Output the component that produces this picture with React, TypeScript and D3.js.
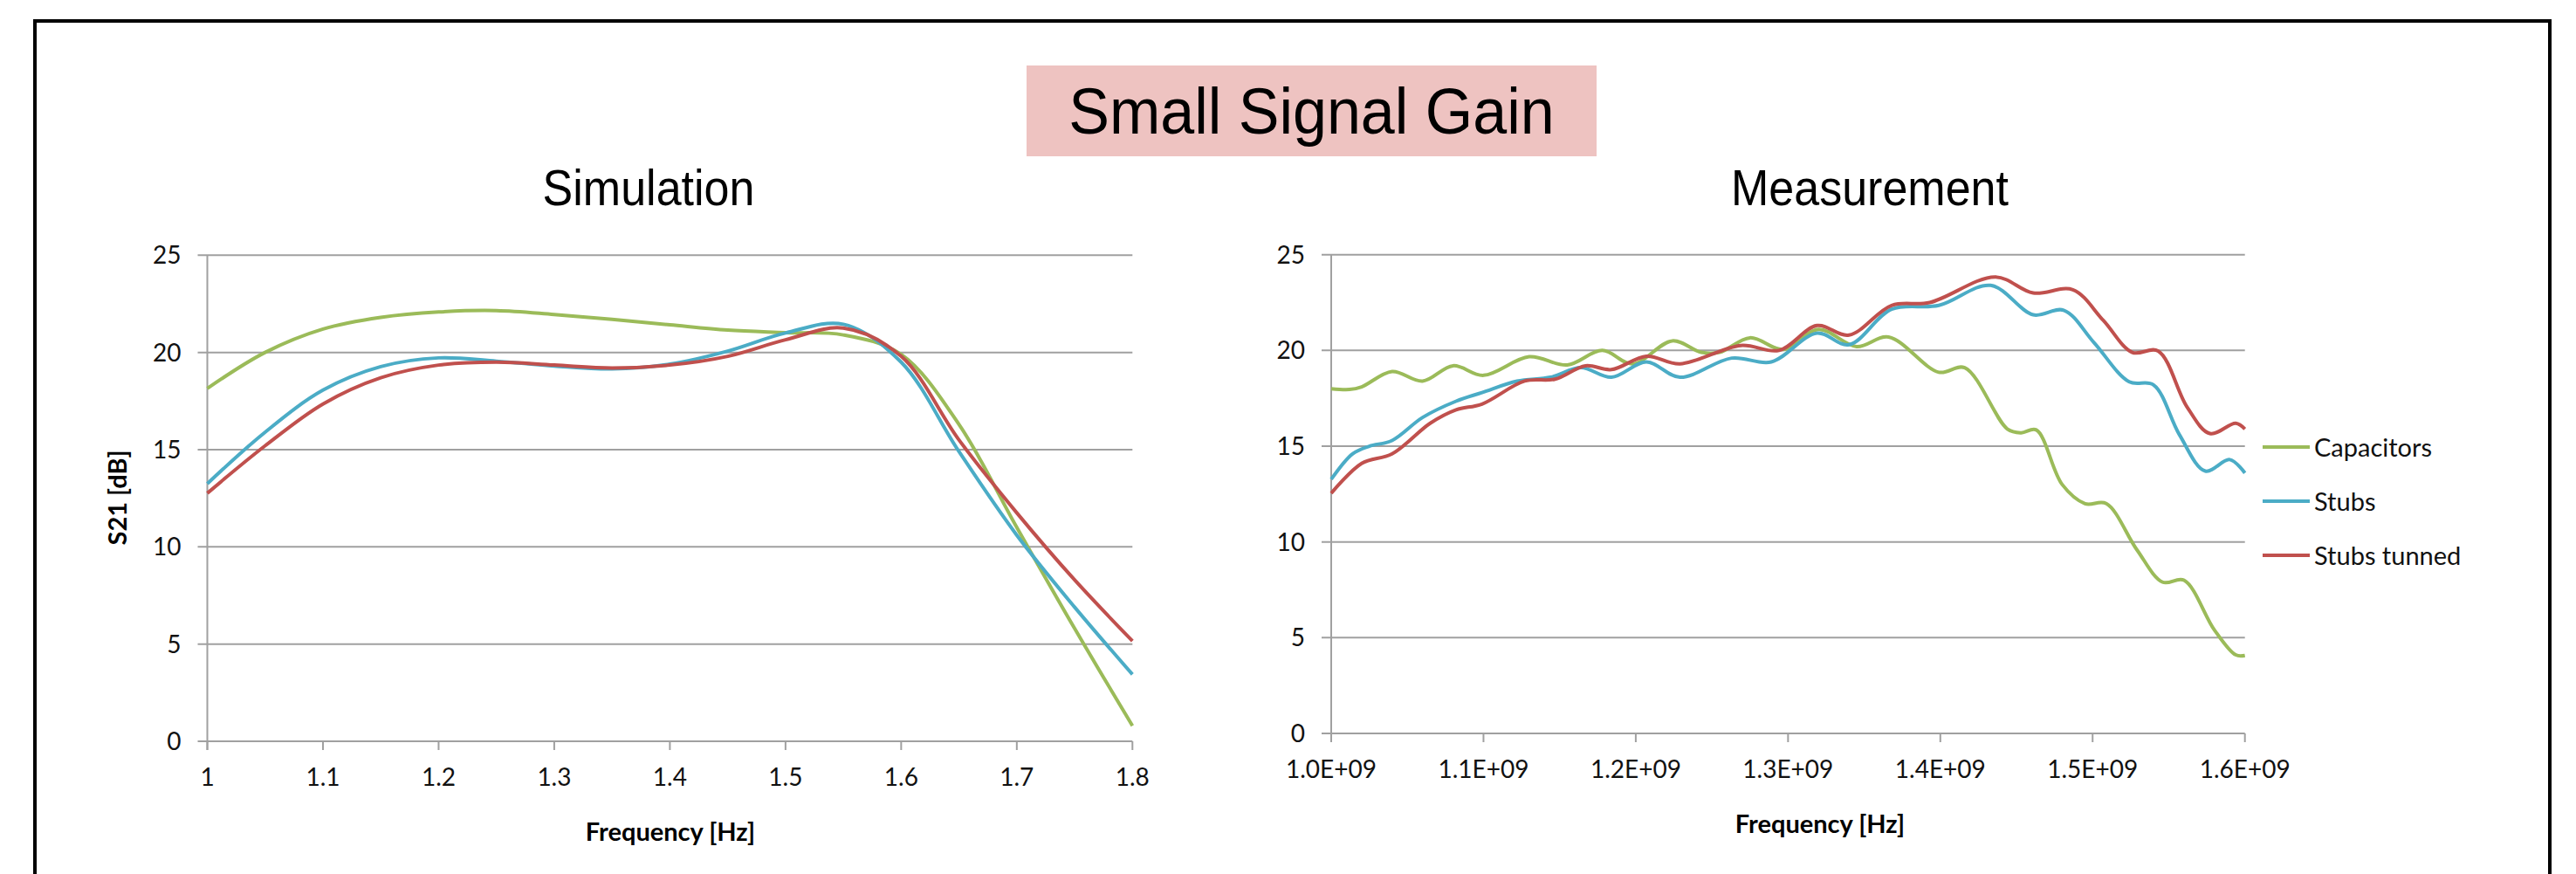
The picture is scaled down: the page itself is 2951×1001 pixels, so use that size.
import React, { useEffect } from "react";
import * as d3 from "d3";

const seriesNames = ["Capacitors", "Stubs", "Stubs tunned"];
const seriesColors = ["#9BBB59", "#4BACC6", "#C0504D"];

// Simulation, frequency in GHz-ish units as printed on the axis
const simFreq = [1.0, 1.05, 1.1, 1.15, 1.2, 1.25, 1.3, 1.35, 1.4, 1.45, 1.5, 1.55, 1.6, 1.65, 1.7, 1.75, 1.8];
const simCapacitors = [18.15, 20.0, 21.2, 21.8, 22.08, 22.15, 21.95, 21.7, 21.42, 21.15, 21.02, 20.9, 19.9, 16.3, 11.0, 5.8, 0.8];
const simStubs = [13.25, 15.9, 18.06, 19.27, 19.72, 19.55, 19.3, 19.15, 19.4, 20.07, 21.0, 21.45, 19.5, 14.9, 10.6, 6.9, 3.44];
const simStubsTunned = [12.76, 15.2, 17.35, 18.7, 19.35, 19.5, 19.35, 19.2, 19.35, 19.8, 20.65, 21.25, 19.8, 15.5, 11.75, 8.3, 5.16];

// Measurement, [frequency in 1e9 Hz, dB]
const measCapacitors = [
  [1.0, 18.0], [1.012, 17.96], [1.02, 18.1], [1.04, 18.9], [1.06, 18.4], [1.08, 19.2], [1.1, 18.7],
  [1.13, 19.67], [1.155, 19.24], [1.178, 20.0], [1.198, 19.3], [1.224, 20.5], [1.243, 19.9],
  [1.255, 19.9], [1.275, 20.66], [1.297, 20.05], [1.32, 21.1], [1.345, 20.2], [1.366, 20.7],
  [1.399, 18.86], [1.416, 19.1], [1.444, 15.9], [1.453, 15.7], [1.463, 15.85], [1.48, 13.0],
  [1.495, 12.0], [1.509, 12.0], [1.529, 9.6], [1.546, 7.9], [1.56, 8.0], [1.58, 5.4],
  [1.594, 4.1], [1.6, 4.07],
];
const measStubs = [
  [1.0, 13.27], [1.014, 14.6], [1.025, 15.0], [1.04, 15.3], [1.06, 16.5], [1.082, 17.35],
  [1.099, 17.8], [1.122, 18.4], [1.144, 18.6], [1.164, 19.1], [1.184, 18.6], [1.207, 19.4],
  [1.229, 18.6], [1.263, 19.6], [1.289, 19.4], [1.319, 20.9], [1.34, 20.3], [1.368, 22.15],
  [1.399, 22.35], [1.433, 23.4], [1.461, 21.86], [1.481, 22.1], [1.501, 20.4], [1.524, 18.36],
  [1.54, 18.2], [1.557, 15.6], [1.574, 13.7], [1.59, 14.3], [1.6, 13.6],
];
const measStubsTunned = [
  [1.0, 12.54], [1.02, 14.1], [1.04, 14.6], [1.065, 16.2], [1.082, 16.9], [1.099, 17.2],
  [1.127, 18.4], [1.147, 18.5], [1.167, 19.2], [1.184, 19.0], [1.207, 19.7], [1.229, 19.3],
  [1.269, 20.26], [1.294, 20.0], [1.319, 21.3], [1.34, 20.8], [1.368, 22.35], [1.393, 22.5],
  [1.436, 23.84], [1.461, 23.0], [1.487, 23.17], [1.507, 21.57], [1.526, 19.9], [1.543, 19.97],
  [1.562, 17.05], [1.577, 15.66], [1.594, 16.2], [1.6, 15.9],
];

const yTicks = [0, 5, 10, 15, 20, 25];
const simTicks = [1, 1.1, 1.2, 1.3, 1.4, 1.5, 1.6, 1.7, 1.8];
const measTicks = [1.0e9, 1.1e9, 1.2e9, 1.3e9, 1.4e9, 1.5e9, 1.6e9];

const tickFont = "Lato, 'Liberation Sans', sans-serif";
const titleFont = "'Liberation Sans', Arial, sans-serif";
const gridColor = "#A0A0A0";

type Pt = [number, number];

function Panel({ x, y, ticks, fmt, series, title, titleX, xTitleX, showYTitle }) {
  const line = d3
    .line<Pt>()
    .x((d) => x(d[0]))
    .y((d) => y(d[1]))
    .curve(d3.curveCatmullRom.alpha(0.5));
  const [x0, x1] = x.range();
  const [y0] = y.range();
  const labelBase = y0 + 51;
  return (
    <g>
      <text x={titleX} y={235} textAnchor="middle" fontFamily={titleFont} fontSize={52}
        transform={`translate(0,235) scale(1,1.1) translate(0,-235)`}>
        {title}
      </text>
      {yTicks.map((t) => (
        <g key={t}>
          <line x1={x0 - 11} x2={x1} y1={y(t)} y2={y(t)} stroke={gridColor} strokeWidth={2} />
          <text x={x0 - 30} y={y(t) + 10} textAnchor="end" fontFamily={tickFont} fontSize={28} fill="#111">
            {t}
          </text>
        </g>
      ))}
      <line x1={x0} x2={x0} y1={y(25)} y2={y0 + 10} stroke={gridColor} strokeWidth={2} />
      {ticks.map((t) => (
        <g key={t}>
          <line x1={x(t)} x2={x(t)} y1={y0} y2={y0 + 10} stroke={gridColor} strokeWidth={2} />
          <text x={x(t)} y={labelBase} textAnchor="middle" fontFamily={tickFont} fontSize={28} fill="#111">
            {fmt(t)}
          </text>
        </g>
      ))}
      {series.map((s, i) => (
        <path key={i} d={line(s)} fill="none" stroke={seriesColors[i]} strokeWidth={4} />
      ))}
      <text x={xTitleX} y={y0 + 114} textAnchor="middle" fontFamily={tickFont} fontWeight="bold" fontSize={29}>
        Frequency [Hz]
      </text>
      {showYTitle && (
        <text transform={`translate(145,570) rotate(-90)`} textAnchor="middle" fontFamily={tickFont}
          fontWeight="bold" fontSize={29}>
          S21 [dB]
        </text>
      )}
    </g>
  );
}

export default function App() {
  useEffect(() => {
    document.body.style.margin = "0";
  }, []);

  const simX = d3.scaleLinear().domain([1, 1.8]).range([237.5, 1297.3]);
  const simY = d3.scaleLinear().domain([0, 25]).range([849, 292.3]);
  const measX = d3.scaleLinear().domain([1.0e9, 1.6e9]).range([1525, 2571.7]);
  const measY = d3.scaleLinear().domain([0, 25]).range([840, 291.7]);

  const simSeries = [simCapacitors, simStubs, simStubsTunned].map((vals) =>
    vals.map((v, i) => [simFreq[i], v] as Pt)
  );
  const measSeries = [measCapacitors, measStubs, measStubsTunned].map((pts) =>
    pts.map((p) => [p[0] * 1e9, p[1]] as Pt)
  );

  const legendY = [512, 574, 636];

  return (
    <svg width={2951} height={1001} style={{ display: "block", background: "#fff" }}>
      <path d="M40,1010 L40,24 L2921,24 L2921,1010" fill="none" stroke="#000" strokeWidth={4} />
      <rect x={1176} y={75} width={653} height={104} fill="#EEC3C1" />
      <text x={1502.5} y={153} textAnchor="middle" fontFamily={titleFont} fontSize={70}
        transform="translate(0,153) scale(1,1.05) translate(0,-153)">
        Small Signal Gain
      </text>
      <Panel x={simX} y={simY} ticks={simTicks} fmt={(t) => String(t)} series={simSeries}
        title="Simulation" titleX={743} xTitleX={768} showYTitle={true} />
      <Panel x={measX} y={measY} ticks={measTicks} fmt={(t) => (t / 1e9).toFixed(1) + "E+09"}
        series={measSeries} title="Measurement" titleX={2142} xTitleX={2085} showYTitle={false} />
      {seriesNames.map((n, i) => (
        <g key={n}>
          <line x1={2592} x2={2646} y1={legendY[i]} y2={legendY[i]} stroke={seriesColors[i]} strokeWidth={4} />
          <text x={2651} y={legendY[i] + 11} fontFamily={tickFont} fontSize={29} fill="#111">
            {n}
          </text>
        </g>
      ))}
    </svg>
  );
}
